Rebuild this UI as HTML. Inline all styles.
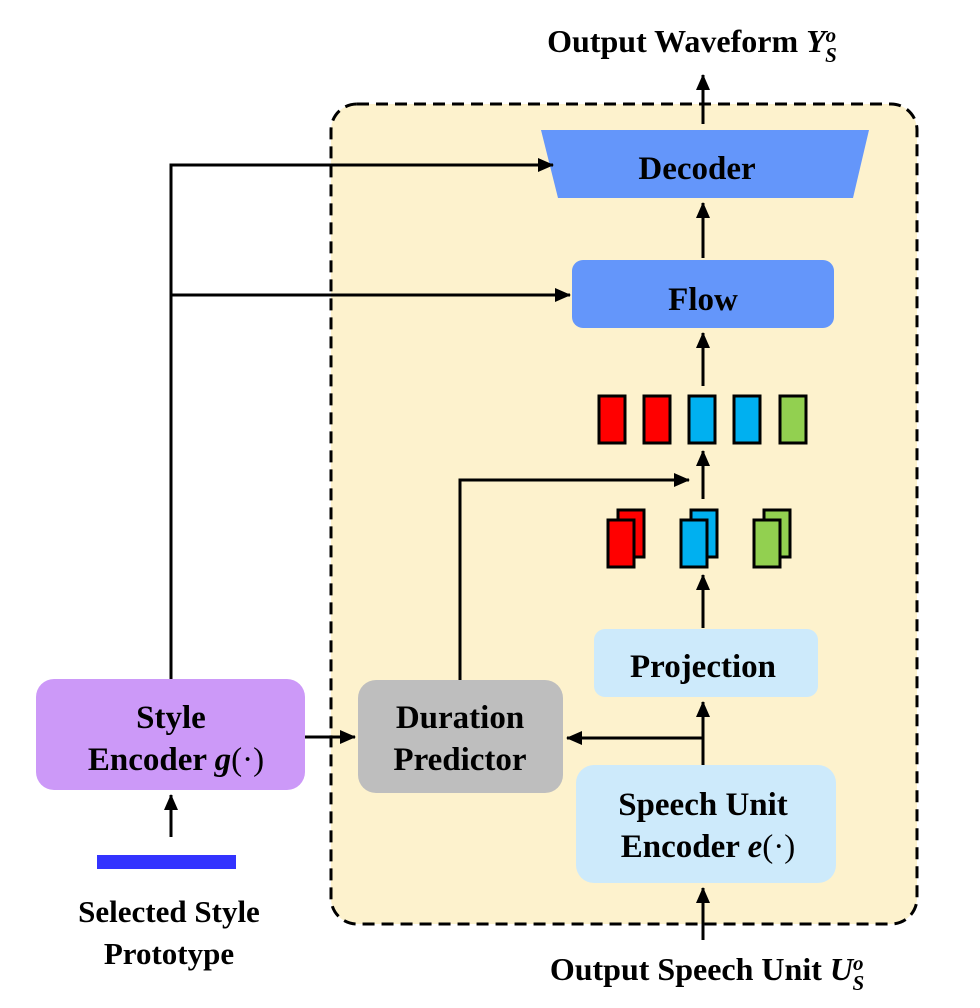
<!DOCTYPE html>
<html><head><meta charset="utf-8"><style>
html,body{margin:0;padding:0;background:#fff;}
svg{display:block;}
text{font-family:"Liberation Serif",serif;font-weight:bold;fill:#000;}
</style></head><body>
<svg width="980" height="1008" viewBox="0 0 980 1008" xmlns="http://www.w3.org/2000/svg">
<defs>
<marker id="a" viewBox="0 0 16 16" markerWidth="16" markerHeight="16" refX="15" refY="8" orient="auto" markerUnits="userSpaceOnUse">
<path d="M0,1 L16,8 L0,15 Z" fill="#000"/>
</marker>
</defs>
<rect x="331" y="104" width="586" height="820" rx="26" fill="#fdf2cd" stroke="#000" stroke-width="3" stroke-dasharray="12,7"/>

<polygon points="541,130 869,130 853,198 558,198" fill="#6496fa"/>
<text x="697" y="179" font-size="33" text-anchor="middle">Decoder</text>
<rect x="572" y="260" width="262" height="68" rx="11" fill="#6496fa"/>
<text x="703" y="310" font-size="33" text-anchor="middle">Flow</text>

<g stroke="#000" stroke-width="3">
<rect x="599" y="396" width="26" height="47" fill="#ff0000"/>
<rect x="644" y="396" width="26" height="47" fill="#ff0000"/>
<rect x="689" y="396" width="26" height="47" fill="#00b0f0"/>
<rect x="734" y="396" width="26" height="47" fill="#00b0f0"/>
<rect x="780" y="396" width="26" height="47" fill="#92d050"/>
<rect x="618" y="510" width="26" height="47" fill="#ff0000"/>
<rect x="608" y="520" width="26" height="47" fill="#ff0000"/>
<rect x="691" y="510" width="26" height="47" fill="#00b0f0"/>
<rect x="681" y="520" width="26" height="47" fill="#00b0f0"/>
<rect x="764" y="510" width="26" height="47" fill="#92d050"/>
<rect x="754" y="520" width="26" height="47" fill="#92d050"/>
</g>

<rect x="594" y="629" width="224" height="68" rx="11" fill="#cdeafb"/>
<text x="703" y="677" font-size="33" text-anchor="middle">Projection</text>
<rect x="576" y="765" width="260" height="118" rx="18" fill="#cdeafb"/>
<text x="703" y="815" font-size="33" text-anchor="middle">Speech Unit</text>
<text x="708" y="857" font-size="33" text-anchor="middle">Encoder <tspan font-style="italic">e</tspan><tspan font-weight="normal">(·)</tspan></text>
<rect x="358" y="680" width="205" height="113" rx="18" fill="#bebebe"/>
<text x="460" y="728" font-size="33" text-anchor="middle">Duration</text>
<text x="460" y="770" font-size="33" text-anchor="middle">Predictor</text>
<rect x="36" y="679" width="269" height="111" rx="18" fill="#cc99f8"/>
<text x="171" y="728" font-size="33" text-anchor="middle">Style</text>
<text x="176" y="770" font-size="33" text-anchor="middle">Encoder <tspan font-style="italic">g</tspan><tspan font-weight="normal">(·)</tspan></text>
<rect x="97" y="855" width="139" height="14" fill="#3333ff"/>
<text x="169" y="922" font-size="31" text-anchor="middle">Selected Style</text>
<text x="169" y="964" font-size="31" text-anchor="middle">Prototype</text>

<text x="692" y="52" font-size="32" text-anchor="middle">Output Waveform <tspan font-style="italic">Y</tspan><tspan font-style="italic" font-size="21" dy="-10">o</tspan><tspan font-style="italic" font-size="21" dx="-11" dy="20">S</tspan></text>
<text x="707" y="980" font-size="32" text-anchor="middle">Output Speech Unit <tspan font-style="italic">U</tspan><tspan font-style="italic" font-size="21" dy="-10">o</tspan><tspan font-style="italic" font-size="21" dx="-11" dy="20">S</tspan></text>

<g stroke="#000" stroke-width="3" fill="none">
<line x1="703" y1="124" x2="703" y2="75" marker-end="url(#a)"/>
<line x1="703" y1="258" x2="703" y2="203" marker-end="url(#a)"/>
<line x1="703" y1="386" x2="703" y2="333" marker-end="url(#a)"/>
<line x1="703" y1="499" x2="703" y2="451" marker-end="url(#a)"/>
<line x1="703" y1="628" x2="703" y2="575" marker-end="url(#a)"/>
<line x1="703" y1="765" x2="703" y2="702" marker-end="url(#a)"/>
<line x1="703" y1="738" x2="567" y2="738" marker-end="url(#a)"/>
<line x1="703" y1="940" x2="703" y2="888" marker-end="url(#a)"/>
<polyline points="460,680 460,480 689,480" marker-end="url(#a)"/>
<line x1="305" y1="737" x2="355" y2="737" marker-end="url(#a)"/>
<line x1="171" y1="837" x2="171" y2="795" marker-end="url(#a)"/>
<polyline points="171,679 171,165 553,165" marker-end="url(#a)"/>
<line x1="171" y1="295" x2="570" y2="295" marker-end="url(#a)"/>
</g>
</svg>
</body></html>
